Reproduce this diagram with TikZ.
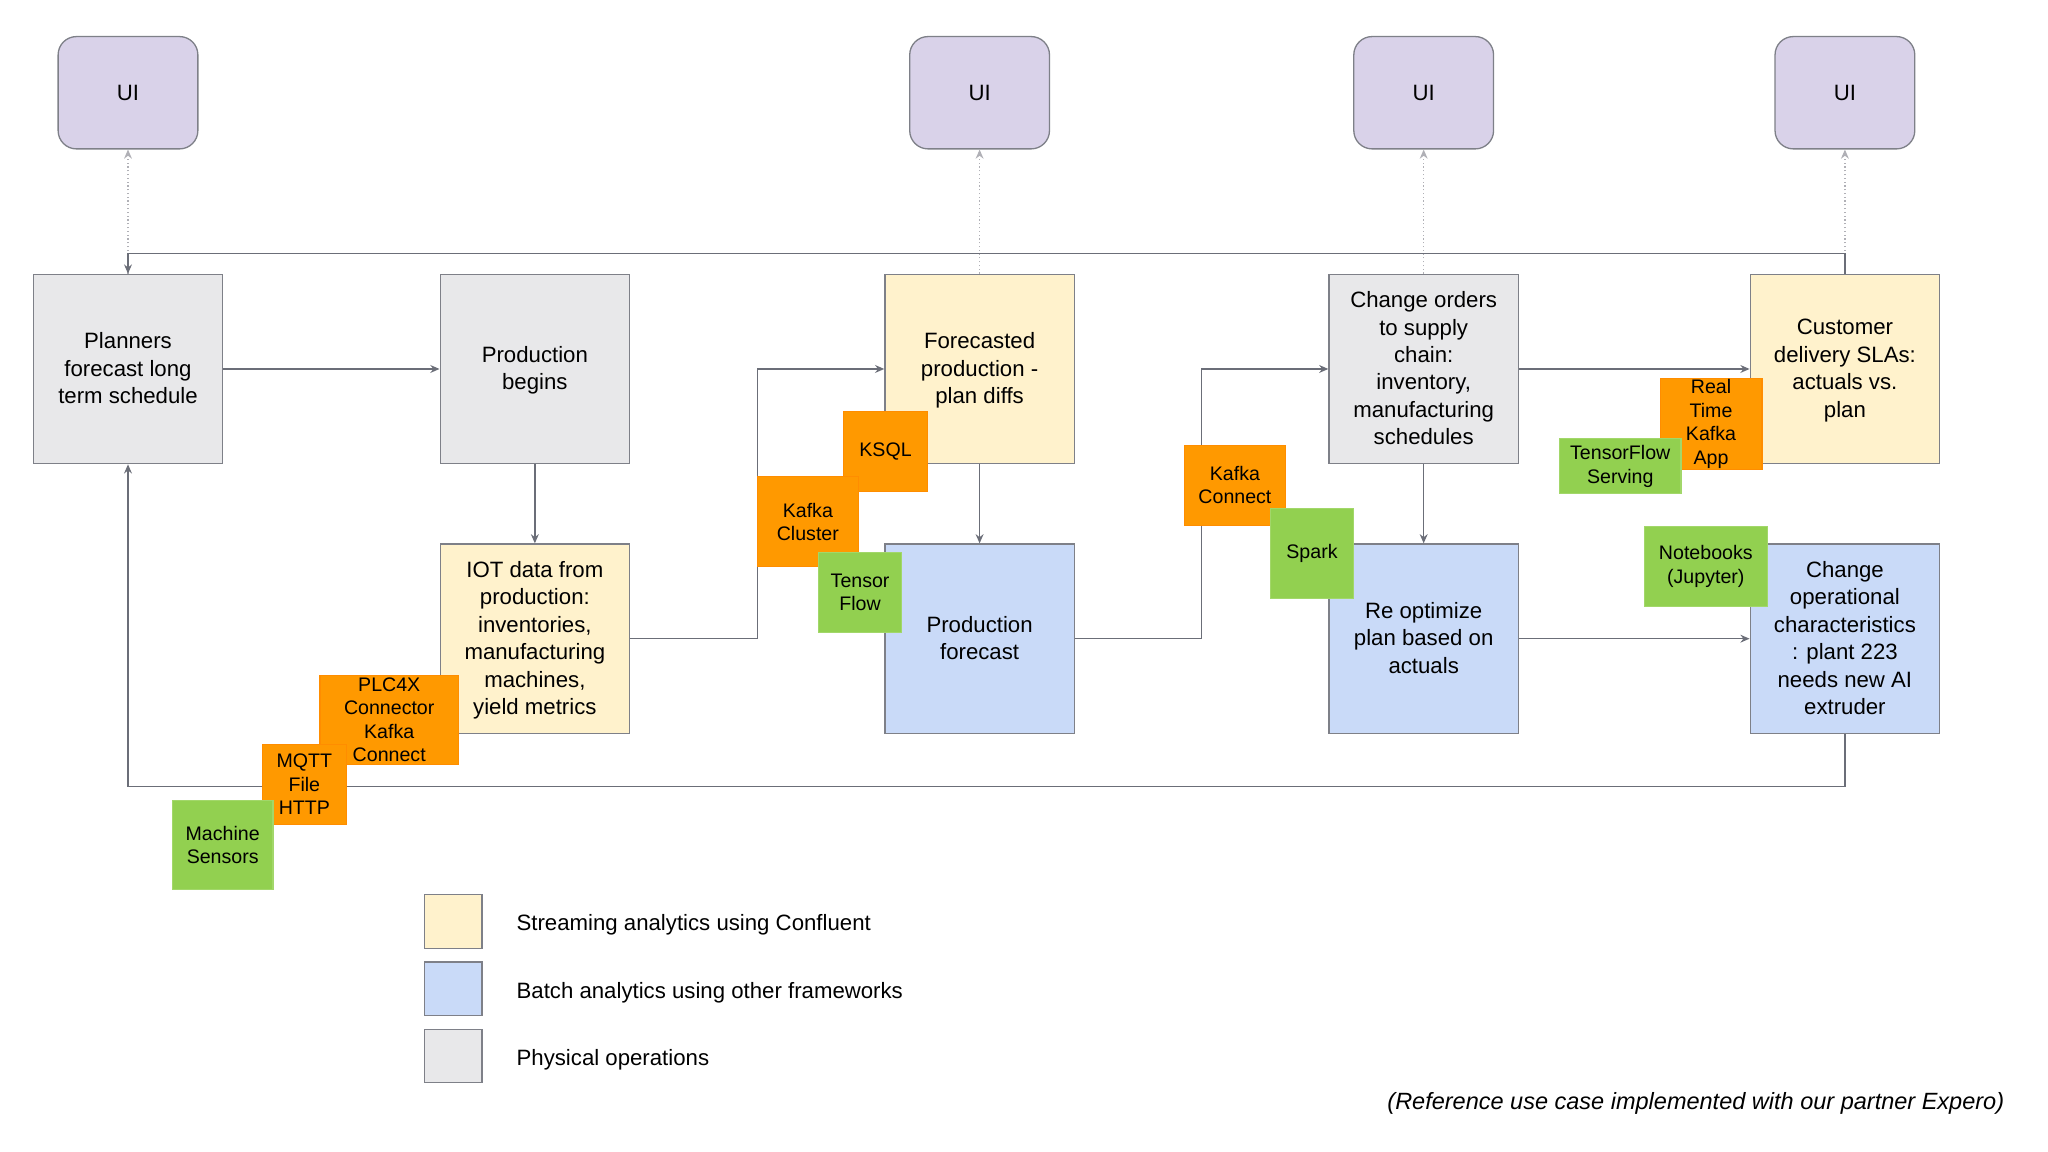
\documentclass[tikz,border=0pt]{standalone}
\usepackage{fontspec}
\setmainfont{Liberation Sans}
\usepackage{tikz}
\usetikzlibrary{arrows.meta}
\usetikzlibrary{positioning}
\definecolor{uifill}{HTML}{D9D2E9}
\definecolor{physfill}{HTML}{E8E8EA}
\definecolor{streamfill}{HTML}{FFF2CC}
\definecolor{batchfill}{HTML}{C9DAF8}
\definecolor{kafkaorange}{HTML}{FF9900}
\definecolor{mlgreen}{HTML}{92D050}
\definecolor{boxgray}{HTML}{7E8088}
\definecolor{flowgray}{HTML}{6B6E78}
\definecolor{dotgray}{HTML}{B0B0B6}

\begin{document}
\begin{tikzpicture}[x=1pt,y=-1pt]
\tikzstyle{box}=[rectangle,align=center,draw=boxgray,line width=1pt,minimum width=145pt,minimum height=145pt,inner sep=2pt,text depth=.25ex,font=\fontsize{17}{21}\selectfont]
\tikzstyle{phys}=[box,fill=physfill]
\tikzstyle{stream}=[box,fill=streamfill]
\tikzstyle{batch}=[box,fill=batchfill]
\tikzstyle{ui}=[rectangle,rounded corners=14pt,draw=boxgray,line width=1pt,fill=uifill,minimum width=107pt,minimum height=86pt,font=\fontsize{17}{21}\selectfont]
\tikzstyle{tag}=[rectangle,align=center,inner sep=1pt,line width=0.8pt,font=\fontsize{15}{18}\selectfont]
\tikzstyle{kafka}=[tag,fill=kafkaorange,draw=kafkaorange!92!red]
\tikzstyle{ml}=[tag,fill=mlgreen,draw=mlgreen!85!white]
\tikzstyle{flow}=[draw=flowgray,line width=1.2pt,-{Stealth[length=7pt,width=6pt]}]
\tikzstyle{uiflow}=[draw=dotgray,line width=0.9pt,dotted,-{Stealth[length=7pt,width=6pt]}]
\tikzstyle{legend}=[rectangle,draw=boxgray,line width=1pt,minimum width=44pt,minimum height=41pt]
\tikzstyle{legtext}=[anchor=west,font=\fontsize{17}{21}\selectfont]

\fill[white] (0,0) rectangle (1568,882);
\useasboundingbox (0,0) rectangle (1568,882);

% UI layer
\node[ui] at(98, 71) (ui1) {UI};
\node[ui] at(750, 71) (ui2) {UI};
\node[ui] at(1090, 71) (ui3) {UI};
\node[ui] at(1412.5, 71) (ui4) {UI};

% process boxes
\node[phys] at(98, 282.5) (planners) {Planners\\forecast long\\term schedule};
\node[phys] at(409.5, 282.5) (begins) {Production\\begins};
\node[stream] at(750, 282.5) (forecasted) {Forecasted\\production -\\plan diffs};
\node[phys] at(1090, 282.5) (orders) {Change orders\\to supply\\chain:\\inventory,\\manufacturing\\schedules};
\node[stream] at(1412.5, 282.5) (sla) {Customer\\delivery SLAs:\\actuals vs.\\plan};
\node[stream] at(409.5, 489) (iot) {IOT data from\\production:\\inventories,\\manufacturing\\machines,\\yield metrics};
\node[batch] at(750, 489) (prodfc) {Production\\forecast};
\node[batch] at(1090, 489) (reopt) {Re optimize\\plan based on\\actuals};
\node[batch] at(1412.5, 489) (plant) {Change\\operational\\characteristics\\: plant 223\\needs new AI\\extruder};

% connectors
\coordinate (kc) at (580, 489);
\coordinate (sc) at (920, 489);
\coordinate (tl) at (98, 194);
\coordinate (bl) at (98, 602);
\draw[uiflow] (planners) -- (ui1);
\draw[uiflow] (forecasted) -- (ui2);
\draw[uiflow] (orders) -- (ui3);
\draw[uiflow] (sla) -- (ui4);
\draw[flow] (planners) -- (begins);
\draw[flow] (begins) -- (iot);
\draw[flow] (iot.east) -- (kc) |- (forecasted.west);
\draw[flow] (forecasted) -- (prodfc);
\draw[flow] (prodfc.east) -- (sc) |- (orders.west);
\draw[flow] (orders) -- (reopt);
\draw[flow] (orders) -- (sla);
\draw[flow] (reopt) -- (plant);
\draw[flow] (sla.north) |- (tl) -- (planners.north);
\draw[flow] (plant.south) |- (bl) -- (planners.south);

% technology tags
\node[kafka,minimum width=64pt,minimum height=61pt] at(678, 345.5) (ksql) {KSQL};
\node[kafka,minimum width=77pt,minimum height=69pt] at(618.5, 399.5) (cluster) {Kafka\\Cluster};
\node[ml,minimum width=63pt,minimum height=61pt] at(658.5, 453.5) (tensor) {Tensor\\Flow};
\node[kafka,minimum width=77pt,minimum height=61pt] at(945.5, 371.5) (connect) {Kafka\\Connect};
\node[ml,minimum width=63pt,minimum height=69pt] at(1004.5, 423.5) (spark) {Spark};
\node[kafka,minimum width=78pt,minimum height=69pt] at(1310, 324.5) (rtapp) {Real\\Time\\Kafka\\App};
\node[ml,minimum width=93pt,minimum height=42pt] at(1240.5, 357) (serving) {TensorFlow\\Serving};
\node[ml,minimum width=94pt,minimum height=61pt] at(1306, 433.5) (notebooks) {Notebooks\\(Jupyter)};
\node[kafka,minimum width=106pt,minimum height=68pt] at(298, 551) (plc) {PLC4X\\Connector\\Kafka\\Connect};
\node[kafka,minimum width=64pt,minimum height=61pt] at(233, 600.5) (mqtt) {MQTT\\File\\HTTP};
\node[ml,minimum width=77pt,minimum height=68pt] at(170.5, 647) (sensors) {Machine\\Sensors};

% legend
\node[legend,fill=streamfill] at(347, 705.5) (lgstream) {};
\node[legend,fill=batchfill] at(347, 757) (lgbatch) {};
\node[legend,fill=physfill] at(347, 808.5) (lgphys) {};
\node[legtext] at(392, 708) (txstream) {Streaming analytics using Confluent};
\node[legtext] at(392, 760) (txbatch) {Batch analytics using other frameworks};
\node[legtext] at(392, 811) (txphys) {Physical operations};

\node[anchor=east,font=\fontsize{18}{22}\selectfont\itshape] at(1538, 845) (note) {(Reference use case implemented with our partner Expero)};
\end{tikzpicture}
\end{document}
